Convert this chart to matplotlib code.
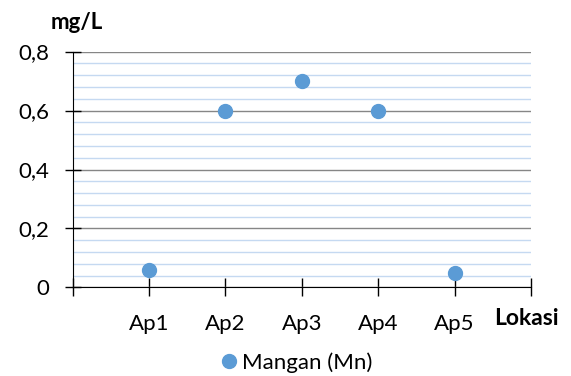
import matplotlib.pyplot as plt
from matplotlib.ticker import MultipleLocator, FixedLocator, NullFormatter

lokasi = ["Ap1", "Ap2", "Ap3", "Ap4", "Ap5"]
mangan = [0.06, 0.6, 0.7, 0.6, 0.05]
y_labels = ["0", "0,2", "0,4", "0,6", "0,8"]

plt.rcParams['font.family'] = ['Lato', 'DejaVu Sans']

fig = plt.figure(figsize=(5.71, 3.76), dpi=100)
ax = fig.add_axes([0.127, 0.2354, 0.803, 0.6276])

xs = list(range(1, len(lokasi) + 1))
ax.plot(xs, mangan, 'o', color="#5B9BD5", markersize=10, label="Mangan (Mn)",
        zorder=5, clip_on=False)

ax.set_xlim(0, 6)
ax.set_ylim(0, 0.8)

# major grey lines every 0.2, light blue ones every 0.04
ax.yaxis.set_major_locator(MultipleLocator(0.2))
ax.yaxis.set_minor_locator(MultipleLocator(0.04))
ax.grid(axis='y', which='minor', color="#C5D9F1", linewidth=1)
ax.grid(axis='y', which='major', color="#868686", linewidth=1)
ax.set_axisbelow(True)

ax.set_yticks([0, 0.2, 0.4, 0.6, 0.8])
ax.set_yticklabels(y_labels, fontsize=16)
ax.tick_params(axis='y', which='major', direction='inout', length=12, width=1, pad=11)
ax.tick_params(axis='y', which='minor', length=0)

ax.xaxis.set_major_locator(FixedLocator(range(0, 7)))
ax.xaxis.set_major_formatter(NullFormatter())
ax.tick_params(axis='x', direction='inout', length=13, width=1)
for x, lab in zip(xs, lokasi):
    ax.text(x, -0.18, lab, ha='center', va='baseline', fontsize=16,
            transform=ax.get_xaxis_transform())

for s in ['top', 'right']:
    ax.spines[s].set_visible(False)
ax.spines['left'].set_color('black')
ax.spines['bottom'].set_color('black')

fig.text(0.135, 0.939, "mg/L", fontsize=16, fontweight='bold', ha='center', va='center')
fig.text(0.922, 0.136, "Lokasi", fontsize=16.5, fontweight='bold', ha='center', va='baseline')

fig.legend(loc='center', bbox_to_anchor=(0.518, 0.035), frameon=False, fontsize=16,
           handletextpad=0.15, markerscale=1.0, handlelength=0.9)

fig.savefig("out.png", dpi=100)
